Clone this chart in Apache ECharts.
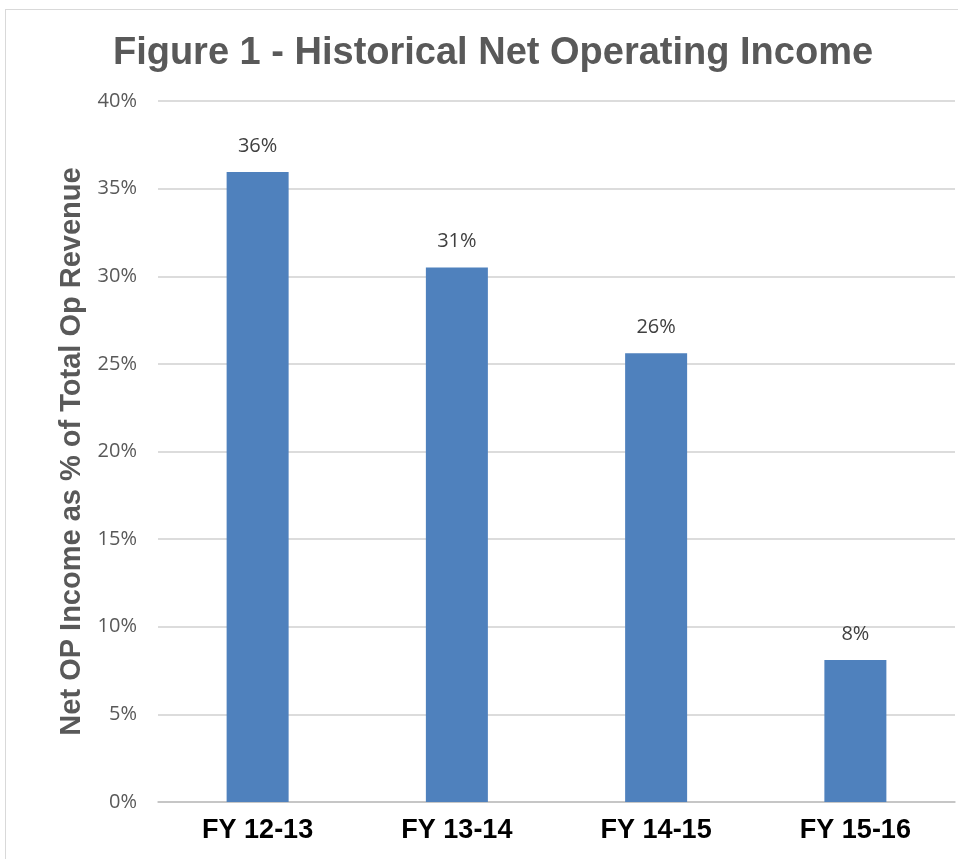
<!DOCTYPE html>
<html><head><meta charset="utf-8">
<script src="https://cdn.jsdelivr.net/npm/echarts@6/dist/echarts.min.js"></script>
<style>
html,body{margin:0;padding:0;background:#fff;}
#frame{position:absolute;left:5px;top:9px;width:958px;height:852px;border:1.5px solid #d9d9d9;box-sizing:border-box;}
#c{position:absolute;left:0;top:0;width:958px;height:859px;}
</style></head>
<body><div id="frame"></div><div id="c"></div>
<script>
const categories = ['FY 12-13','FY 13-14','FY 14-15','FY 15-16'];
const values = [35.95, 30.5, 25.6, 8.1];
const labels = ['36%','31%','26%','8%'];
const titleText = 'Figure 1 - Historical Net Operating Income';
const yTitle = 'Net OP Income as % of Total Op Revenue';

const chart = echarts.init(document.getElementById('c'), null, {renderer:'canvas'});
chart.setOption({
  animation:false,
  backgroundColor:'transparent',
  title:{text:titleText,left:488,textAlign:'center',top:30,
    textStyle:{fontFamily:'Liberation Sans',fontWeight:'bold',fontSize:38,color:'#595959'}},
  grid:{left:158,right:3,top:101,bottom:57,containLabel:false},
  xAxis:{type:'category',data:categories,
    axisLine:{lineStyle:{color:'#bfbfbf',width:1.5}},axisTick:{show:false},
    axisLabel:{fontFamily:'Liberation Sans',fontWeight:'bold',fontSize:27,color:'#000',margin:15}},
  yAxis:{type:'value',min:0,max:40,interval:5,
    name:yTitle,nameLocation:'middle',nameGap:61,nameRotate:90,
    nameTextStyle:{fontFamily:'Liberation Sans',fontWeight:'bold',fontSize:29,color:'#595959'},
    axisLabel:{formatter:'{value}%',fontFamily:'Open Sans',fontSize:20,color:'#595959',margin:21},
    axisLine:{show:false},axisTick:{show:false},
    splitLine:{lineStyle:{color:'#d0d0d0',width:1.5}}},
  series:[{type:'bar',data:values,barWidth:62,
    itemStyle:{color:'#4F81BD'},
    label:{show:true,position:'top',distance:16,
      formatter:p=>labels[p.dataIndex],
      fontFamily:'Open Sans',fontSize:20,color:'#404040'}}]
});
</script></body></html>
